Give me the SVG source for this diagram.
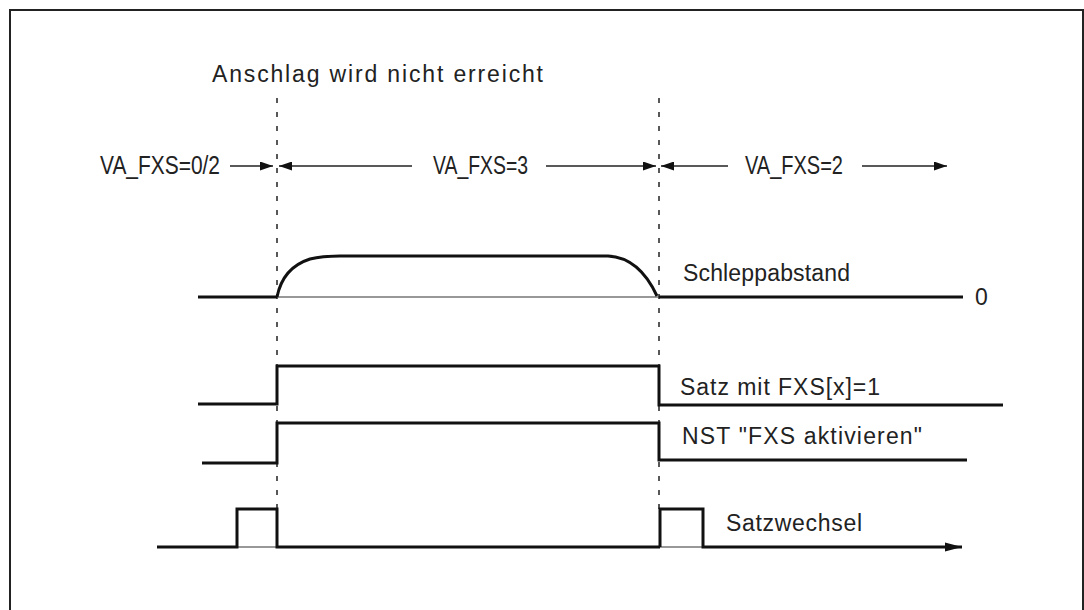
<svg xmlns="http://www.w3.org/2000/svg" width="1084" height="610" viewBox="0 0 1084 610">
<style>
text{font-family:"Liberation Sans",Arial,sans-serif;fill:#222}
.t{font-size:23px}
.v{font-size:25px}
.thick{stroke:#111;stroke-width:3;fill:none}
.thin{stroke:#333;stroke-width:1.2;fill:none}
.arr{stroke:#222;stroke-width:1.5;fill:none}
.dash{stroke:#222;stroke-width:1.5;stroke-dasharray:5 9;fill:none}
</style>
<defs>
<marker id="ah" markerWidth="14" markerHeight="9" refX="13" refY="4.5" orient="auto" markerUnits="userSpaceOnUse">
<path d="M0,0 L13,4.5 L0,9 Z" fill="#111"/>
</marker>
<marker id="ah2" markerWidth="18" markerHeight="10" refX="17" refY="5" orient="auto" markerUnits="userSpaceOnUse">
<path d="M0,0.5 L17,5 L0,9.5 Z" fill="#111"/>
</marker>
</defs>
<rect x="10" y="10" width="1073" height="620" fill="#fff" stroke="#222" stroke-width="2"/>
<g id="title"><text class="t" x="212" y="82" textLength="331" lengthAdjust="spacing">Anschlag wird nicht erreicht</text></g>
<g id="phase-labels">
<text class="v" x="100" y="174" textLength="120" lengthAdjust="spacingAndGlyphs">VA_FXS=0/2</text>
<text class="v" x="433" y="174" textLength="95" lengthAdjust="spacingAndGlyphs">VA_FXS=3</text>
<text class="v" x="745" y="174" textLength="98" lengthAdjust="spacingAndGlyphs">VA_FXS=2</text>
</g>
<g id="connectors">
<line class="dash" x1="277" y1="98" x2="277" y2="512"/>
<line class="dash" x1="659" y1="98" x2="659" y2="512"/>
<line class="arr" x1="230" y1="166" x2="273" y2="166" marker-end="url(#ah)"/>
<line class="arr" x1="412" y1="166" x2="279" y2="166" marker-end="url(#ah)"/>
<line class="arr" x1="546" y1="166" x2="656" y2="166" marker-end="url(#ah)"/>
<line class="arr" x1="728" y1="166" x2="661" y2="166" marker-end="url(#ah)"/>
<line class="arr" x1="862" y1="166" x2="947" y2="166" marker-end="url(#ah)"/>
</g>
<g id="schleppabstand">
<line class="thick" x1="198" y1="297" x2="277" y2="297"/>
<line class="thin" x1="277" y1="297" x2="659" y2="297"/>
<path class="thick" d="M277,297 C280,282 288,266 310,259 C322,256 330,256 340,256 L608,256 C628,257 645,270 657,296"/>
<line class="thick" x1="659" y1="297" x2="963" y2="297"/>
<text class="t" x="683" y="281" textLength="167" lengthAdjust="spacing">Schleppabstand</text>
<text class="t" x="975" y="305">0</text>
</g>
<g id="satz-fxs">
<polyline class="thick" points="198,404 277,404 277,366 659,366 659,405 1003,405"/>
<text class="t" x="680" y="395" textLength="200" lengthAdjust="spacing">Satz mit FXS[x]=1</text>
</g>
<g id="nst-fxs">
<polyline class="thick" points="202,463 277,463 277,423 659,423 659,460 967,460"/>
<text class="t" x="682" y="444" textLength="240" lengthAdjust="spacing">NST "FXS aktivieren"</text>
</g>
<g id="satzwechsel">
<line class="thin" x1="237" y1="547" x2="277" y2="547"/>
<line class="thin" x1="660" y1="547" x2="703" y2="547"/>
<polyline class="thick" points="157,547 237,547 237,509 277,509 277,547 660,547"/>
<polyline class="thick" points="660,547 660,509 703,509 703,547 962,547" marker-end="url(#ah2)"/>
<text class="t" x="726" y="531" textLength="136" lengthAdjust="spacing">Satzwechsel</text>
</g>
</svg>
